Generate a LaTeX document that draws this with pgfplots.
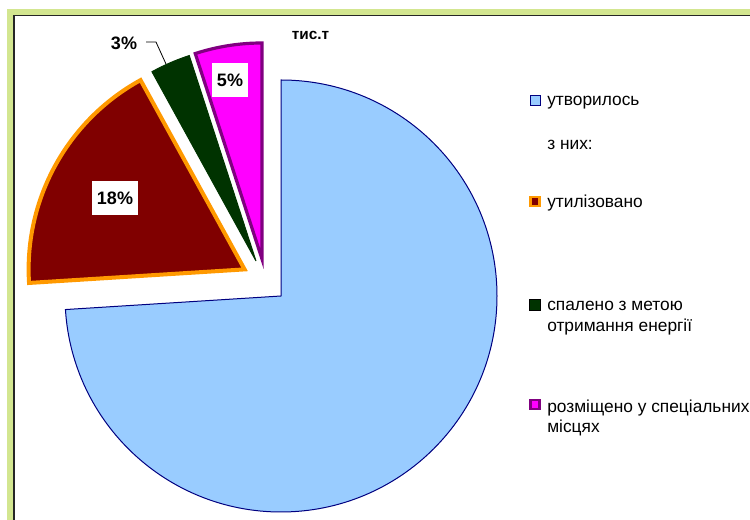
\documentclass[border=0pt]{standalone}
\usepackage{pgfplots}
\pgfplotsset{compat=1.18}
\usepackage{fontspec}
\setmainfont{Liberation Sans}

\definecolor{frameGreen}{HTML}{D3E690}
\definecolor{blueFill}{HTML}{99CCFF}
\definecolor{blueDraw}{HTML}{000080}
\definecolor{redFill}{HTML}{800000}
\definecolor{redDraw}{HTML}{FF9900}
\definecolor{greenFill}{HTML}{003300}
\definecolor{magFill}{HTML}{FF00FF}
\definecolor{magDraw}{HTML}{800080}

\begin{document}
\begin{tikzpicture}
% shares in %, clockwise from 12 o'clock
\pgfmathsetmacro{\aA}{90}
\pgfmathsetmacro{\aB}{\aA-3.6*74}
\pgfmathsetmacro{\aC}{\aB-3.6*18}
\pgfmathsetmacro{\aD}{\aC-3.6*3}
\pgfmathsetmacro{\aE}{\aD-3.6*5}
\def\R{162pt}
\begin{axis}[x=0.75pt,y=0.75pt,xmin=0,xmax=750,ymin=0,ymax=520,
  hide axis,clip=false]
\coordinate (sw) at (axis cs:0,0);
\coordinate (ne) at (axis cs:750,520);
% chart frame
\draw[frameGreen,line width=4.5pt] (axis cs:10,-100) -- (axis cs:10,508.2) -- (axis cs:900,508.2);
\draw[black!85,line width=1.2pt] (axis cs:14,-100) -- (axis cs:14,504.5) -- (axis cs:900,504.5);
% slices
\filldraw[fill=blueFill,draw=blueDraw,line width=0.75pt]
  (axis cs:281,224) -- ++(\aA:\R) arc[start angle=\aA,end angle=\aB,radius=\R] -- cycle;
\filldraw[fill=redFill,draw=redDraw,line width=3pt,line join=miter]
  (axis cs:244.6,250.6) -- ++(\aB:\R) arc[start angle=\aB,end angle=\aC,radius=\R] -- cycle;
\filldraw[fill=greenFill,draw=greenFill,line width=0.75pt]
  (axis cs:256,259) -- ++(\aC:\R) arc[start angle=\aC,end angle=\aD,radius=\R] -- cycle;
\filldraw[fill=magFill,draw=magDraw,line width=2.4pt,line join=miter]
  (axis cs:262,261) -- ++(\aD:\R) arc[start angle=\aD,end angle=\aE,radius=\R] -- cycle;
% data labels
\node[fill=white,inner sep=0pt,minimum width=34.5pt,minimum height=26pt,
  font=\fontsize{13.5}{15}\selectfont\bfseries] at (axis cs:115,322) {18\%};
\node[fill=white,inner sep=0pt,minimum width=27pt,minimum height=26pt,
  font=\fontsize{13.5}{15}\selectfont\bfseries] at (axis cs:230,440) {5\%};
\node[inner sep=0pt,font=\fontsize{13.5}{15}\selectfont\bfseries] at (axis cs:124,477) {3\%};
\draw[black,line width=0.6pt] (axis cs:146,478) -- (axis cs:156,478) -- (axis cs:166,456);
% title
\node[inner sep=0pt,font=\fontsize{11.5}{13}\selectfont\bfseries] at (axis cs:310.5,485) {тис.т};
% legend
\filldraw[fill=blueFill,draw=blueDraw,line width=0.75pt] (axis cs:530.5,414.5) rectangle (axis cs:540.5,424.5);
\filldraw[fill=redFill,draw=redDraw,line width=2pt] (axis cs:530.5,314) rectangle (axis cs:539.5,323);
\filldraw[fill=greenFill,draw=black,line width=0.5pt] (axis cs:529.5,210) rectangle (axis cs:540.5,221);
\filldraw[fill=magFill,draw=magDraw,line width=2pt] (axis cs:530.5,111) rectangle (axis cs:539.5,120);
\begin{scope}[every node/.style={anchor=base west,inner sep=0pt,font=\fontsize{13}{15}\selectfont}]
\node at (axis cs:547,414) {утворилось};
\node at (axis cs:547,370) {з них:};
\node at (axis cs:547,312) {утилізовано};
\node at (axis cs:547,209) {спалено з метою};
\node at (axis cs:547,188) {отримання енергії};
\node at (axis cs:547,107) {розміщено у спеціальних};
\node at (axis cs:547,87) {місцях};
\end{scope}
\end{axis}
\pgfresetboundingbox
\path[use as bounding box] (sw) rectangle (ne);
\end{tikzpicture}
\end{document}
